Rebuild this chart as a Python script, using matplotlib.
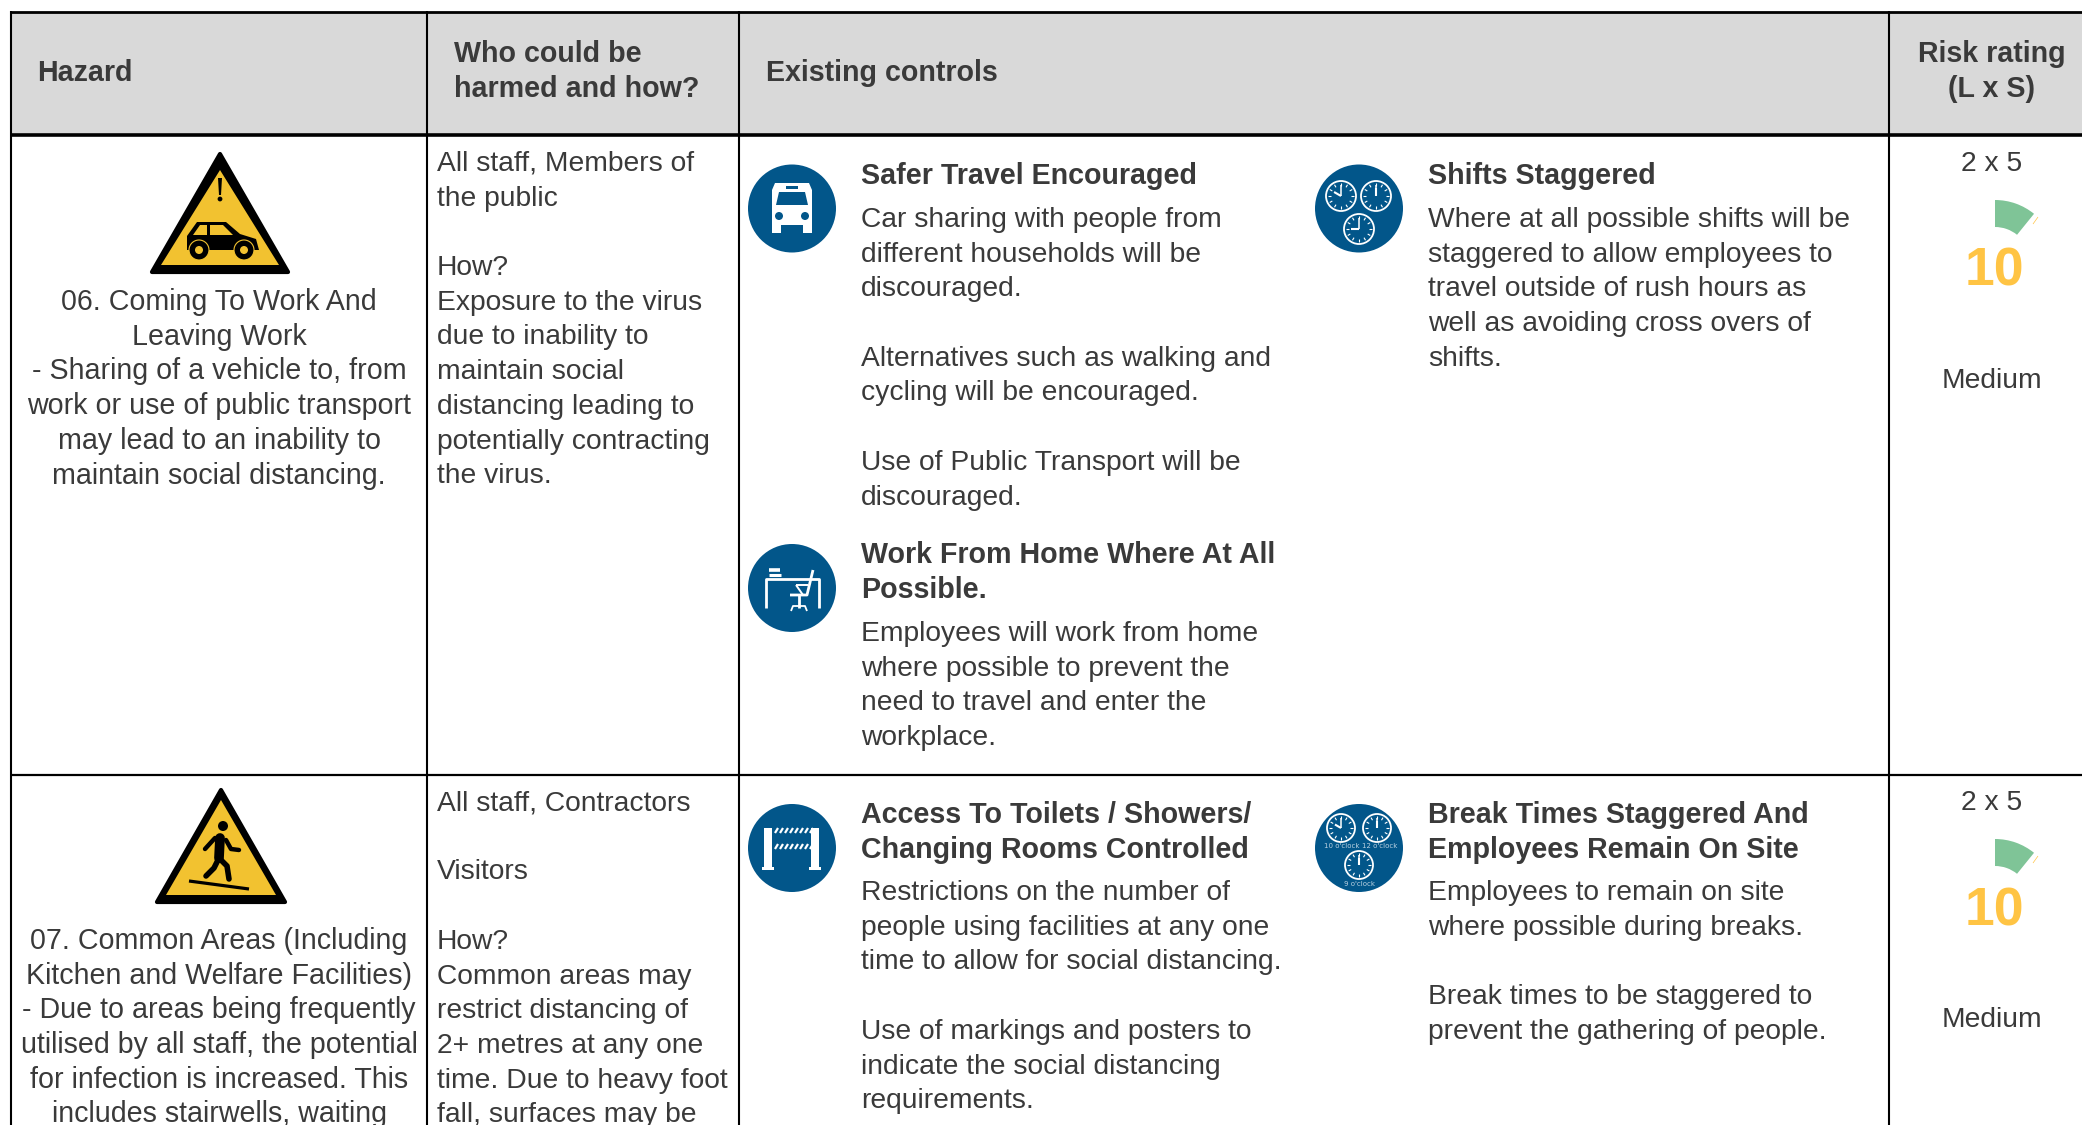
import numpy as np
import matplotlib
matplotlib.use("Agg")
import matplotlib.pyplot as plt
from matplotlib.patches import Circle, Polygon, Rectangle, Wedge

plt.rcParams["font.family"] = ["Liberation Sans", "DejaVu Sans"]

# ── table text ────────────────────────────────────────────────────────────────
HEADERS = [
    ("Hazard", 37, 81, "left"),
    ("Who could be", 454, 62, "left"),
    ("harmed and how?", 454, 97, "left"),
    ("Existing controls", 766, 81, "left"),
    ("Risk rating", 1992, 62, "center"),
    ("(L x S)", 1992, 97, "center"),
]

HAZARD_1 = ["06. Coming To Work And", "Leaving Work", "- Sharing of a vehicle to, from",
            "work or use of public transport", "may lead to an inability to",
            "maintain social distancing."]
HAZARD_2 = ["07. Common Areas (Including", "Kitchen and Welfare Facilities)",
            "- Due to areas being frequently", "utilised by all staff, the potential",
            "for infection is increased. This", "includes stairwells, waiting"]
WHO_1 = ["All staff, Members of", "the public", "", "How?", "Exposure to the virus",
         "due to inability to", "maintain social", "distancing leading to",
         "potentially contracting", "the virus."]
WHO_2 = ["All staff, Contractors", "", "Visitors", "", "How?", "Common areas may",
         "restrict distancing of", "2+ metres at any one", "time. Due to heavy foot",
         "fall, surfaces may be"]

CONTROLS = [
    (861, 184, ["Safer Travel Encouraged"], 227,
     ["Car sharing with people from", "different households will be", "discouraged.", "",
      "Alternatives such as walking and", "cycling will be encouraged.", "",
      "Use of Public Transport will be", "discouraged."]),
    (861, 563, ["Work From Home Where At All", "Possible."], 641,
     ["Employees will work from home", "where possible to prevent the",
      "need to travel and enter the", "workplace."]),
    (1428, 184, ["Shifts Staggered"], 227,
     ["Where at all possible shifts will be", "staggered to allow employees to",
      "travel outside of rush hours as", "well as avoiding cross overs of", "shifts."]),
    (861, 823, ["Access To Toilets / Showers/", "Changing Rooms Controlled"], 900,
     ["Restrictions on the number of", "people using facilities at any one",
      "time to allow for social distancing.", "",
      "Use of markings and posters to", "indicate the social distancing", "requirements."]),
    (1428, 823, ["Break Times Staggered And", "Employees Remain On Site"], 900,
     ["Employees to remain on site", "where possible during breaks.", "",
      "Break times to be staggered to", "prevent the gathering of people."]),
]

RISK_LS = ["2 x 5", "2 x 5"]
RISK_SCORE = ["10", "10"]
RISK_LEVEL = ["Medium", "Medium"]
ROW_OFFSET = [0, 639]

TEXT_C = "#3a3a3a"
HEAD_BG = "#d9d9d9"
BLUE = "#02568a"
YELLOW = "#f2c230"
SCORE_C = "#ffc444"
GAUGE_C = "#7fc497"
FS = 20.35
FS_HAZARD = 20.65
FS_BOLD = 20.65
PITCH = 34.7

fig = plt.figure(figsize=(20.82, 11.25), dpi=100)
ax = fig.add_axes([0, 0, 1, 1])
ax.set_xlim(0, 2082)
ax.set_ylim(1125, 0)
ax.axis("off")


def block(lines, x, y, ha="left", weight="normal", size=None):
    if size is None:
        size = FS_BOLD if weight == "bold" else FS
    for i, line in enumerate(lines):
        ax.text(x, y + i * PITCH, line, ha=ha, va="baseline", fontsize=size,
                color=TEXT_C, fontweight=weight)


def seg(pts, lw=2.0, color="white", cap="butt"):
    xs, ys = zip(*pts)
    ax.plot(xs, ys, color=color, lw=lw, solid_capstyle=cap, solid_joinstyle="round")


def disc(x, y):
    ax.add_patch(Circle((x, y), 44, fc=BLUE, ec="none"))


def warning(outer, inner):
    ax.add_patch(Polygon(outer, fc="black", ec="black", lw=3, joinstyle="round"))
    ax.add_patch(Polygon(inner, fc=YELLOW, ec="none"))


def clock(x, y, r, h_angle, m_angle=0):
    ax.add_patch(Circle((x, y), r, fc="none", ec="white", lw=1.3))
    for a in np.arange(0, 360, 30):
        t = np.radians(a)
        seg([(x + (r - 5) * np.sin(t), y - (r - 5) * np.cos(t)),
             (x + (r - 2) * np.sin(t), y - (r - 2) * np.cos(t))], lw=0.8)
    seg([(x, y), (x + (r - 4) * np.sin(np.radians(m_angle)), y - (r - 4) * np.cos(np.radians(m_angle)))], lw=1.1)
    seg([(x, y), (x + (r - 7) * np.sin(np.radians(h_angle)), y - (r - 7) * np.cos(np.radians(h_angle)))], lw=1.5)


# ── table frame ───────────────────────────────────────────────────────────────
ax.add_patch(Rectangle((10, 12), 2072, 123, fc=HEAD_BG, ec="none"))
seg([(10, 12), (2082, 12)], lw=2.0, color="black")
seg([(10, 135), (2082, 135)], lw=2.6, color="black")
seg([(10, 775), (2082, 775)], lw=1.6, color="black")
for vx in [11, 427, 739, 1889]:
    seg([(vx, 11), (vx, 1125)], lw=1.5, color="black")

for label, x, y, ha in HEADERS:
    ax.text(x, y, label, ha=ha, va="baseline", fontsize=20.6, color=TEXT_C, fontweight="bold")

# ── hazard and who columns ────────────────────────────────────────────────────
block(HAZARD_1, 219, 310, ha="center", size=FS_HAZARD)
block(HAZARD_2, 219, 949, ha="center", size=FS_HAZARD)
block(WHO_1, 437, 171)
block(WHO_2, 437, 810)

# ── control blocks ────────────────────────────────────────────────────────────
for x, y_head, head, y_body, body in CONTROLS:
    block(head, x, y_head, weight="bold")
    block(body, x, y_body)

# ── risk column ───────────────────────────────────────────────────────────────
for ls, score, level, dy in zip(RISK_LS, RISK_SCORE, RISK_LEVEL, ROW_OFFSET):
    ax.text(1992, 171 + dy, ls, ha="center", va="baseline", fontsize=FS, color=TEXT_C)
    ax.add_patch(Wedge((1995, 262 + dy), 62, -90, -51, width=27, fc=GAUGE_C, ec="none"))
    seg([(2033, 224 + dy), (2038, 217 + dy)], lw=0.5, color=SCORE_C)
    ax.text(1994, 286 + dy, score, ha="center", va="baseline", fontsize=38.5,
            color=SCORE_C, fontweight="bold")
    ax.text(1992, 388 + dy, level, ha="center", va="baseline", fontsize=FS, color=TEXT_C)

# ── warning sign: car ─────────────────────────────────────────────────────────
warning([(220, 154), (152, 272), (288, 272)], [(220, 170), (161, 265), (279, 265)])
ax.add_patch(Polygon([(218, 178), (222, 178), (221, 195), (219, 195)], fc="black", ec="none"))
ax.add_patch(Circle((220, 199), 2.4, fc="black", ec="none"))
ax.add_patch(Polygon([(187, 236), (197, 222), (226, 222), (240, 234), (256, 239), (259, 250),
                      (187, 250)], fc="black", ec="none"))
ax.add_patch(Polygon([(193, 235), (200, 225), (207, 225), (207, 235)], fc=YELLOW, ec="none"))
ax.add_patch(Polygon([(210, 225), (223, 225), (233, 235), (210, 235)], fc=YELLOW, ec="none"))
for wx in [199, 244]:
    ax.add_patch(Circle((wx, 250), 10, fc="black", ec=YELLOW, lw=0.8))
    ax.add_patch(Circle((wx, 250), 4, fc=YELLOW, ec="none"))

# ── warning sign: walking person ──────────────────────────────────────────────
warning([(221, 790), (157, 902), (285, 902)], [(221, 800), (166, 895), (276, 895)])
ax.add_patch(Circle((223, 826), 5, fc="black", ec="none"))
seg([(220, 838), (219, 858)], lw=7, color="black", cap="round")
seg([(215, 838), (205, 849)], lw=3.2, color="black", cap="round")
seg([(226, 840), (231, 849), (239, 850)], lw=3.2, color="black", cap="round")
seg([(219, 858), (214, 868), (206, 876)], lw=4, color="black", cap="round")
seg([(219, 858), (227, 866), (229, 879)], lw=4, color="black", cap="round")
seg([(189, 881), (249, 889)], lw=2.3, color="black")

# ── bus icon ──────────────────────────────────────────────────────────────────
disc(792, 208.5)
ax.add_patch(Polygon([(775, 183), (809, 183), (812, 190), (812, 233), (803, 233), (803, 225),
                      (781, 225), (781, 233), (772, 233), (772, 190)], fc="white", ec="none"))
ax.add_patch(Polygon([(779, 192), (805, 192), (808, 205), (776, 205)], fc=BLUE, ec="none"))
ax.add_patch(Rectangle((786, 186), 12, 3, fc=BLUE, ec="none"))
for hx in [779, 805]:
    ax.add_patch(Circle((hx, 216), 4, fc=BLUE, ec="none"))

# ── desk icon ─────────────────────────────────────────────────────────────────
disc(792, 588)
seg([(766, 608), (766, 579), (819, 579), (819, 608)], lw=2.0)
seg([(769, 570), (780, 570)], lw=2.6)
seg([(769, 575), (781, 575)], lw=2.2)
seg([(813, 570), (807, 595), (790, 595)], lw=2.0)
seg([(796, 585), (808, 585)], lw=1.4)
seg([(796, 585), (803, 595)], lw=1.4)
seg([(799, 595), (799, 608)], lw=2.0)
seg([(791, 611), (793, 606), (805, 606), (807, 611)], lw=1.3)

# ── barrier icon ──────────────────────────────────────────────────────────────
disc(792, 848)
for bx, bw in [(764, 8), (811, 8)]:
    ax.add_patch(Rectangle((bx, 828), bw, 39, fc="white", ec="none"))
    ax.add_patch(Rectangle((bx - 2, 867), bw + 4, 2.5, fc="white", ec="none"))
for by in [828, 844]:
    for sx in np.arange(775, 811, 5):
        seg([(sx, by + 5), (sx + 3, by)], lw=1.6)

# ── clock icons ───────────────────────────────────────────────────────────────
disc(1359, 208.5)
clock(1341, 196, 15, 300)
clock(1376, 196, 15, 0)
clock(1359, 229, 15, 270)

disc(1359, 848)
clock(1341, 828, 14, 300)
clock(1377, 828, 14, 0)
clock(1359, 865, 14, 0)
for label, lx, ly in [("10 o'clock", 1342, 846), ("12 o'clock", 1380, 846), ("9 o'clock", 1359, 884)]:
    ax.text(lx, ly, label, ha="center", va="center", fontsize=5, color="#b8d0e0",
            family="DejaVu Sans")

fig.savefig("out.png", dpi=100)
